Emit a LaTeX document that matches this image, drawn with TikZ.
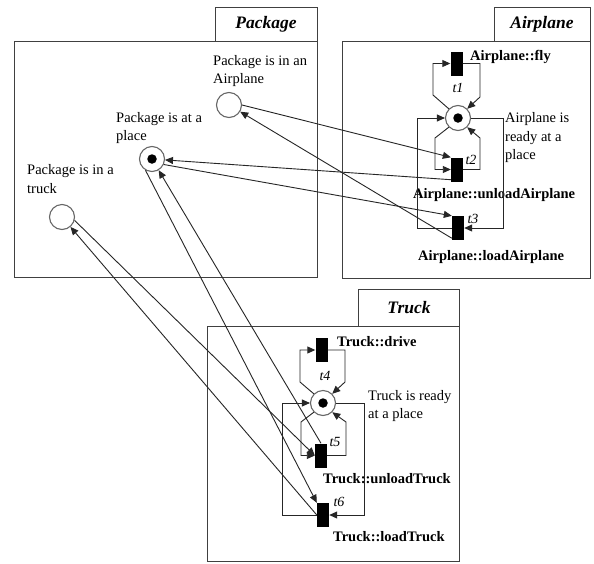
\documentclass[tikz,border=0pt]{standalone}
\usepackage{fontspec}
\setmainfont{Liberation Serif}
\usetikzlibrary{arrows.meta}
\begin{document}
\begin{tikzpicture}[x=1pt,y=-1pt,
  frame/.style={draw=black!75, line width=0.9pt},
  place/.style={circle, draw=black!60, line width=1.1pt, fill=white, minimum size=25pt, inner sep=0pt},
  token/.style={circle, fill=black, minimum size=9.5pt, inner sep=0pt},
  trans/.style={rectangle, fill=black, minimum width=12pt, minimum height=24pt, inner sep=0pt},
  arc/.style={draw=black!85, line width=0.9pt, -{Triangle[length=8pt,width=7pt]}},
  txt/.style={font=\fontsize{14.5}{18.5}\selectfont, align=left, inner sep=0pt},
  btxt/.style={font=\bfseries\fontsize{14.5}{18}\selectfont, inner sep=0pt},
  ttl/.style={font=\bfseries\itshape\fontsize{17.5}{20}\selectfont, inner sep=0pt},
  tl/.style={font=\itshape\fontsize{14}{16}\selectfont, inner sep=0pt}
]
\fill[white] (0,0) rectangle (594,563);
\useasboundingbox (0,0) rectangle (594,563);

% frames
\draw[frame] (14,41) rectangle (317,277);
\draw[frame] (215,7) rectangle (317,41);
\node[ttl] (pkgT) at (266,24) {Package};
\draw[frame] (342,41) rectangle (590,278);
\draw[frame] (494,7) rectangle (590,41);
\node[ttl] (airT) at (542,24) {Airplane};
\draw[frame] (207,326) rectangle (459,561.5);
\draw[frame] (358,289) rectangle (459,326);
\node[ttl] (trkT) at (409,308) {Truck};

% places
\node[place] (pA) at (229,105) {};
\node[place] (pP) at (152,159) {};
\node[place] (pT) at (62,217) {};
\node[place] (pAR) at (458,118) {};
\node[place] (pTR) at (323,403) {};
\node[token] (kP) at (pP) {};
\node[token] (kA) at (pAR) {};
\node[token] (kT) at (pTR) {};

% transitions
\node[trans] (t1) at (456.5,63.5) {};
\node[trans] (t2) at (457,169.5) {};
\node[trans] (t3) at (458,228) {};
\node[trans] (t4) at (321.5,350) {};
\node[trans] (t5) at (321,455.5) {};
\node[trans] (t6) at (323,515) {};

% labels
\node[txt, anchor=west] (lA) at (213,71) {Package is in an\\Airplane};
\node[txt, anchor=west] (lP) at (116,128) {Package is at a\\place};
\node[txt, anchor=west] (lT) at (27,179) {Package is in a\\truck};
\node[txt, anchor=west] (lAR) at (505,138) {Airplane is\\ready at a\\place};
\node[txt, anchor=west] (lTR) at (368,406) {Truck is ready\\at a place};
\node[btxt, anchor=west] (n1) at (470,57) {Airplane::fly};
\node[btxt, anchor=west] (n2) at (413,195) {Airplane::unloadAirplane};
\node[btxt, anchor=west] (n3) at (418,257) {Airplane::loadAirplane};
\node[btxt, anchor=west] (n4) at (337,342) {Truck::drive};
\node[btxt, anchor=west] (n5) at (323,479) {Truck::unloadTruck};
\node[btxt, anchor=west] (n6) at (333,537) {Truck::loadTruck};
\node[tl] (l1) at (458,88) {t1};
\node[tl] (l2) at (471,160) {t2};
\node[tl] (l3) at (473,219) {t3};
\node[tl] (l4) at (325,376) {t4};
\node[tl] (l5) at (335,442) {t5};
\node[tl] (l6) at (339,502) {t6};

% loop corner coordinates
\coordinate (a1lb) at (433,95);
\coordinate (a1lt) at (433,63.5);
\coordinate (a1rt) at (480,63.5);
\coordinate (a1rb) at (480,97);
\coordinate (a2lt) at (435,138);
\coordinate (a2lb) at (435,169.5);
\coordinate (a2rb) at (480,169.5);
\coordinate (a2rt) at (480,138);
\coordinate (aRt) at (503,118);
\coordinate (aRb) at (503,228);
\coordinate (aLb) at (417,228);
\coordinate (aLt) at (417,118);
\coordinate (b1lb) at (300,382);
\coordinate (b1lt) at (300,350);
\coordinate (b1rt) at (345,350);
\coordinate (b1rb) at (345,382);
\coordinate (b2lt) at (301,422);
\coordinate (b2lb) at (301,455.5);
\coordinate (b2rb) at (346,455.5);
\coordinate (b2rt) at (346,422);
\coordinate (bRt) at (364,403);
\coordinate (bRb) at (364,515);
\coordinate (bLb) at (282,515);
\coordinate (bLt) at (282,403);

% airplane loops
\draw[arc] (pAR.135) -- (a1lb) -- (a1lt) -- (t1.west);
\draw[arc] (t1.east) -- (a1rt) -- (a1rb) -- (pAR.45);
\draw[arc] (pAR.225) -- (a2lt) -- (a2lb) -- (t2.west);
\draw[arc] (t2.east) -- (a2rb) -- (a2rt) -- (pAR.-45);
\draw[arc] (pAR.east) -- (aRt) -- (aRb) -- (t3.east);
\draw[arc] (t3.west) -- (aLb) -- (aLt) -- (pAR.west);

% truck loops
\draw[arc] (pTR.135) -- (b1lb) -- (b1lt) -- (t4.west);
\draw[arc] (t4.east) -- (b1rt) -- (b1rb) -- (pTR.45);
\draw[arc] (pTR.225) -- (b2lt) -- (b2lb) -- (t5.west);
\draw[arc] (t5.east) -- (b2rb) -- (b2rt) -- (pTR.-45);
\draw[arc] (pTR.east) -- (bRt) -- (bRb) -- (t6.east);
\draw[arc] (t6.west) -- (bLb) -- (bLt) -- (pTR.west);

% package arcs
\draw[arc] (pA.east) -- (t2.north west);
\draw[arc] ([yshift=2pt]t2.south west) -- (pP);
\draw[arc] (pP.-25) -- (t3.north west);
\draw[arc] ([yshift=2pt]t3.south west) -- (pA);
\draw[arc] (pT.-15) -- (t5.west);
\draw[arc] (t6.west) -- (pT);
\draw[arc] (pP.240) -- (t6.north west);
\draw[arc] (t5.north) -- (pP);
\end{tikzpicture}
\end{document}
